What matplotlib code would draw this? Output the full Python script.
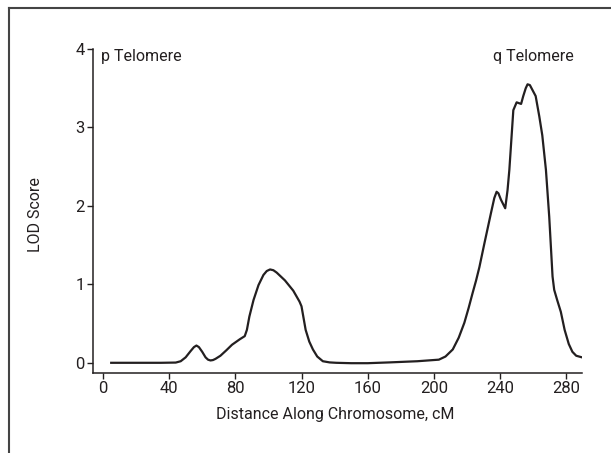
import numpy as np
import matplotlib.pyplot as plt
from matplotlib.lines import Line2D

plt.rcParams['font.family'] = ['Roboto', 'DejaVu Sans']

# LOD score
distance_cm = [5, 20, 35, 44, 47, 50, 53, 55, 56.5, 58, 60, 62, 63.5, 65, 66.5, 68, 71, 74.6,
               78, 82.7, 85.7, 87, 88.5, 91, 94, 97, 99, 101, 103, 105, 110, 115, 118.8,
               120, 121, 122.5, 124.7, 126.9, 129.5, 132.9, 137, 141, 150, 160, 173, 190,
               203, 207, 211.4, 215, 218.4, 221, 223.4, 225.5, 227.5, 230.5, 234.5, 236.5,
               237.9, 239, 240.5, 243.1, 244.5, 245.6, 248, 250, 252.7, 254, 255.5, 256.6,
               258, 259.5, 261.5, 263.7, 265.5, 267.7, 269.7, 271.7, 272.7, 274.5, 276.7,
               279, 281.5, 283.7, 286, 289.4]
lod_score = [0, 0, 0, 0.003, 0.02, 0.07, 0.15, 0.2, 0.22, 0.2, 0.14, 0.07, 0.04, 0.03, 0.035,
             0.05, 0.09, 0.16, 0.23, 0.30, 0.34, 0.42, 0.59, 0.80, 0.99, 1.12, 1.17, 1.19,
             1.18, 1.15, 1.05, 0.92, 0.78, 0.72, 0.60, 0.42, 0.27, 0.17, 0.08, 0.02, 0.005,
             0, -0.005, -0.005, 0.005, 0.02, 0.04, 0.08, 0.17, 0.32, 0.51, 0.70, 0.89, 1.05,
             1.22, 1.52, 1.91, 2.1, 2.18, 2.16, 2.08, 1.97, 2.2, 2.46, 3.22, 3.32, 3.30, 3.40,
             3.50, 3.55, 3.54, 3.48, 3.40, 3.14, 2.9, 2.46, 1.86, 1.10, 0.93, 0.80, 0.65,
             0.42, 0.24, 0.14, 0.09, 0.07]

x_ticks = [0, 40, 80, 120, 160, 200, 240, 280]
y_ticks = [0, 1, 2, 3, 4]

fig = plt.figure(figsize=(6.11, 4.53), dpi=100)
ax = fig.add_axes([93 / 611, 1 - 373 / 453, 489 / 611, 324 / 453])

ax.plot(distance_cm, lod_score, color='#231f20', linewidth=1.6, solid_joinstyle='round')

ax.set_xlim(-6, 289.5)
ax.set_ylim(-0.13, 4.0)
ax.set_xticks(x_ticks)
ax.set_yticks(y_ticks)
for s in ['top', 'right']:
    ax.spines[s].set_visible(False)
for s in ['left', 'bottom']:
    ax.spines[s].set_linewidth(1.1)
    ax.spines[s].set_color('#231f20')
ax.tick_params(direction='out', length=4, width=1, colors='#231f20', labelsize=12, pad=2)

ax.set_xlabel('Distance Along Chromosome, cM', fontsize=11.5, color='#231f20')
ax.set_ylabel('LOD Score', fontsize=11.5, color='#231f20')
ax.xaxis.set_label_coords(0.495, -0.105)
ax.yaxis.set_label_coords(-0.102, 0.49)

ax.text(-1.2, 3.91, 'p Telomere', fontsize=11.5, ha='left', va='center', color='#231f20')
ax.text(284.8, 3.91, 'q Telomere', fontsize=11.5, ha='right', va='center', color='#231f20')

# partial frame round the figure
fig.add_artist(Line2D([8.5 / 611, 1], [1 - 7.5 / 453, 1 - 7.5 / 453], color='#444444', linewidth=1.5))
fig.add_artist(Line2D([8.5 / 611, 8.5 / 611], [0, 1 - 7.5 / 453], color='#444444', linewidth=1.5))

fig.savefig('out.png', dpi=100)
